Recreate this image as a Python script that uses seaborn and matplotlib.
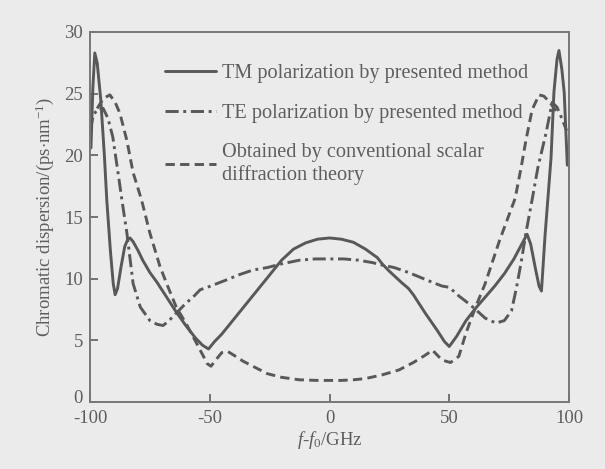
import matplotlib
matplotlib.use("Agg")
import matplotlib.pyplot as plt
import matplotlib.transforms as mtransforms
import seaborn as sns
import pandas as pd

# ---- data ----
tm_x = [-99.6, -98.8, -98.0, -97.0, -95.5, -94.0, -93.0, -91.5, -90.3, -89.5, -88.5,
        -87.0, -85.5, -84.2, -83.3, -82.0, -80.0, -78.0, -75.0, -72.0, -68.0, -64.0,
        -60.0, -56.0, -53.0, -50.5, -48.0, -45.0, -40.0, -35.0, -30.0, -25.0, -20.0,
        -15.0, -10.0, -5.0, 0.0, 5.0, 10.0, 15.0, 20.0, 22.0, 25.0, 30.0, 33.0, 35.0,
        40.0, 45.0, 48.0, 50.0, 53.0, 57.0, 61.0, 65.0, 69.0, 73.0, 77.0, 80.0, 82.5,
        84.0, 86.0, 87.5, 88.5, 90.0, 92.5, 93.7, 95.0, 95.8, 97.0, 98.0, 99.3]
tm_y = [20.6, 25.5, 28.3, 27.5, 24.5, 20.0, 16.4, 12.3, 9.6, 8.7, 9.2,
        11.0, 12.6, 13.2, 13.3, 13.0, 12.3, 11.5, 10.5, 9.7, 8.5, 7.3,
        6.2, 5.2, 4.6, 4.3, 4.9, 5.5, 6.7, 7.9, 9.1, 10.3, 11.5,
        12.4, 12.9, 13.2, 13.3, 13.2, 12.95, 12.4, 11.7, 11.2, 10.6, 9.7, 9.2, 8.7,
        7.2, 5.8, 4.9, 4.5, 5.3, 6.6, 7.6, 8.5, 9.4, 10.4, 11.6, 12.7, 13.6,
        12.8, 10.8, 9.4, 9.0, 13.5, 19.8, 25.1, 27.8, 28.5, 27.0, 25.1, 19.2]

te_x = [-100.0, -98.5, -96.5, -94.5, -92.5, -90.5, -88.0, -86.7, -84.6, -82.0, -79.0,
        -75.0, -72.0, -69.5, -67.0, -64.0, -60.0, -57.0, -54.0, -51.0, -47.0, -43.0,
        -38.0, -32.0, -26.0, -20.0, -12.5, -6.0, 0.0, 6.0, 12.0, 18.0, 22.0, 27.0,
        33.0, 38.0, 43.0, 47.0, 50.0, 54.0, 58.0, 61.0, 65.0, 69.5, 73.0, 76.0, 78.0,
        80.0, 82.0, 84.6, 87.0, 90.4, 93.0, 95.0, 97.0, 99.0]
te_y = [22.0, 23.3, 23.8, 23.8, 23.0, 21.5, 18.2, 16.4, 13.7, 9.6, 7.7,
        6.6, 6.3, 6.2, 6.6, 7.2, 8.0, 8.5, 9.1, 9.3, 9.6, 9.9,
        10.3, 10.7, 10.9, 11.2, 11.5, 11.6, 11.6, 11.6, 11.5, 11.3, 11.1, 10.9,
        10.5, 10.1, 9.7, 9.4, 9.3, 8.6, 8.0, 7.5, 6.8, 6.4, 6.6, 7.4, 9.2,
        11.3, 13.7, 16.4, 19.0, 21.8, 24.3, 23.9, 23.0, 22.0]

cs_x = [-97.0, -94.5, -91.7, -89.5, -87.5, -84.6, -82.0, -78.5, -75.0, -70.8, -68.0,
        -64.0, -60.0, -55.6, -51.0, -49.5, -47.5, -45.0, -42.5, -40.0, -36.0, -31.0,
        -26.0, -20.0, -12.5, -5.0, 0.0, 5.0, 10.0, 15.0, 22.0, 29.0, 35.0, 40.0, 43.0,
        47.0, 50.5, 54.0, 57.0, 61.0, 65.0, 71.0, 77.5, 80.0, 82.0, 84.6, 87.5, 89.5,
        92.0, 95.0]
cs_y = [23.8, 24.6, 24.9, 24.3, 23.4, 21.2, 18.6, 16.4, 13.7, 11.0, 9.6,
        7.7, 6.4, 4.8, 3.1, 2.9, 3.4, 4.0, 4.1, 3.8, 3.3, 2.8,
        2.3, 2.0, 1.8, 1.75, 1.75, 1.75, 1.8, 1.9, 2.2, 2.6, 3.2, 3.8, 4.2,
        3.4, 3.2, 3.7, 5.6, 7.7, 9.6, 13.1, 16.5, 19.0, 21.2, 23.7, 24.9, 24.8,
        24.3, 23.5]

labels = ["TM polarization by presented method",
          "TE polarization by presented method",
          "Obtained by conventional scalar\ndiffraction theory"]
x_ticks = [-100, -50, 0, 50, 100]
y_ticks = [0, 5, 10, 15, 20, 25, 30]

# ---- styling ----
sns.set_theme(style="ticks")
BG = "#ebebeb"
INK = "#5e5e5e"
LINE = "#585858"
plt.rcParams.update({
    "font.family": ["Liberation Serif", "DejaVu Serif"],
    "mathtext.fontset": "custom",
    "mathtext.rm": "Liberation Serif",
    "mathtext.it": "Liberation Serif:italic",
    "axes.unicode_minus": False,
    "text.color": INK,
    "axes.labelcolor": INK,
    "xtick.color": INK,
    "ytick.color": INK,
})

df = pd.concat([
    pd.DataFrame({"x": tm_x, "y": tm_y, "series": labels[0]}),
    pd.DataFrame({"x": te_x, "y": te_y, "series": labels[1]}),
    pd.DataFrame({"x": cs_x, "y": cs_y, "series": labels[2]}),
], ignore_index=True)

fig = plt.figure(figsize=(6.05, 4.69), dpi=100, facecolor=BG)
ax = fig.add_axes([90 / 605, 67 / 469, 479 / 605, 370 / 469])
ax.set_facecolor(BG)

dashes = {labels[0]: "", labels[1]: (4.5, 1.6, 1.0, 1.6), labels[2]: (3.2, 1.8)}
sns.lineplot(data=df, x="x", y="y", hue="series", style="series",
             palette=[LINE, LINE, LINE], dashes=dashes, estimator=None,
             sort=True, linewidth=2.1, legend=False, ax=ax)

ax.set_xlim(-100, 100)
ax.set_ylim(0, 30)
ax.set_xticks(x_ticks)
ax.set_yticks(y_ticks)
ax.tick_params(direction="in", length=6, width=1.2, labelsize=13.5,
               top=False, right=False)
ax.tick_params(axis="x", pad=6)
ax.tick_params(axis="y", pad=5)
for s in ax.spines.values():
    s.set_color("#777777")
    s.set_linewidth(1.4)

# nudge the y "0" label up a little so it does not collide with "-100"
fig.canvas.draw()
ylabels0 = ax.get_yticklabels()
ylabels0[0].set_transform(ylabels0[0].get_transform()
                          + mtransforms.ScaledTranslation(0, 4 / 72, fig.dpi_scale_trans))

ax.set_xlabel(r"$f$-$f_0$/GHz", fontsize=13.5, labelpad=1)
ax.set_ylabel(r"Chromatic dispersion/(ps$\cdot$nm$^{-1}$)", fontsize=13.5, labelpad=6)

handles = ax.get_lines()[:3]
leg = ax.legend(handles, labels, loc="upper left",
                bbox_to_anchor=((165 - 90) / 479, (402 - 64) / 370),
                frameon=False, fontsize=14.6, handlelength=2.5,
                handletextpad=0.3, labelspacing=1.0, borderaxespad=0,
                borderpad=0)
for t in leg.get_texts():
    t.set_color(INK)

fig.savefig("out.png", dpi=100, facecolor=BG)
